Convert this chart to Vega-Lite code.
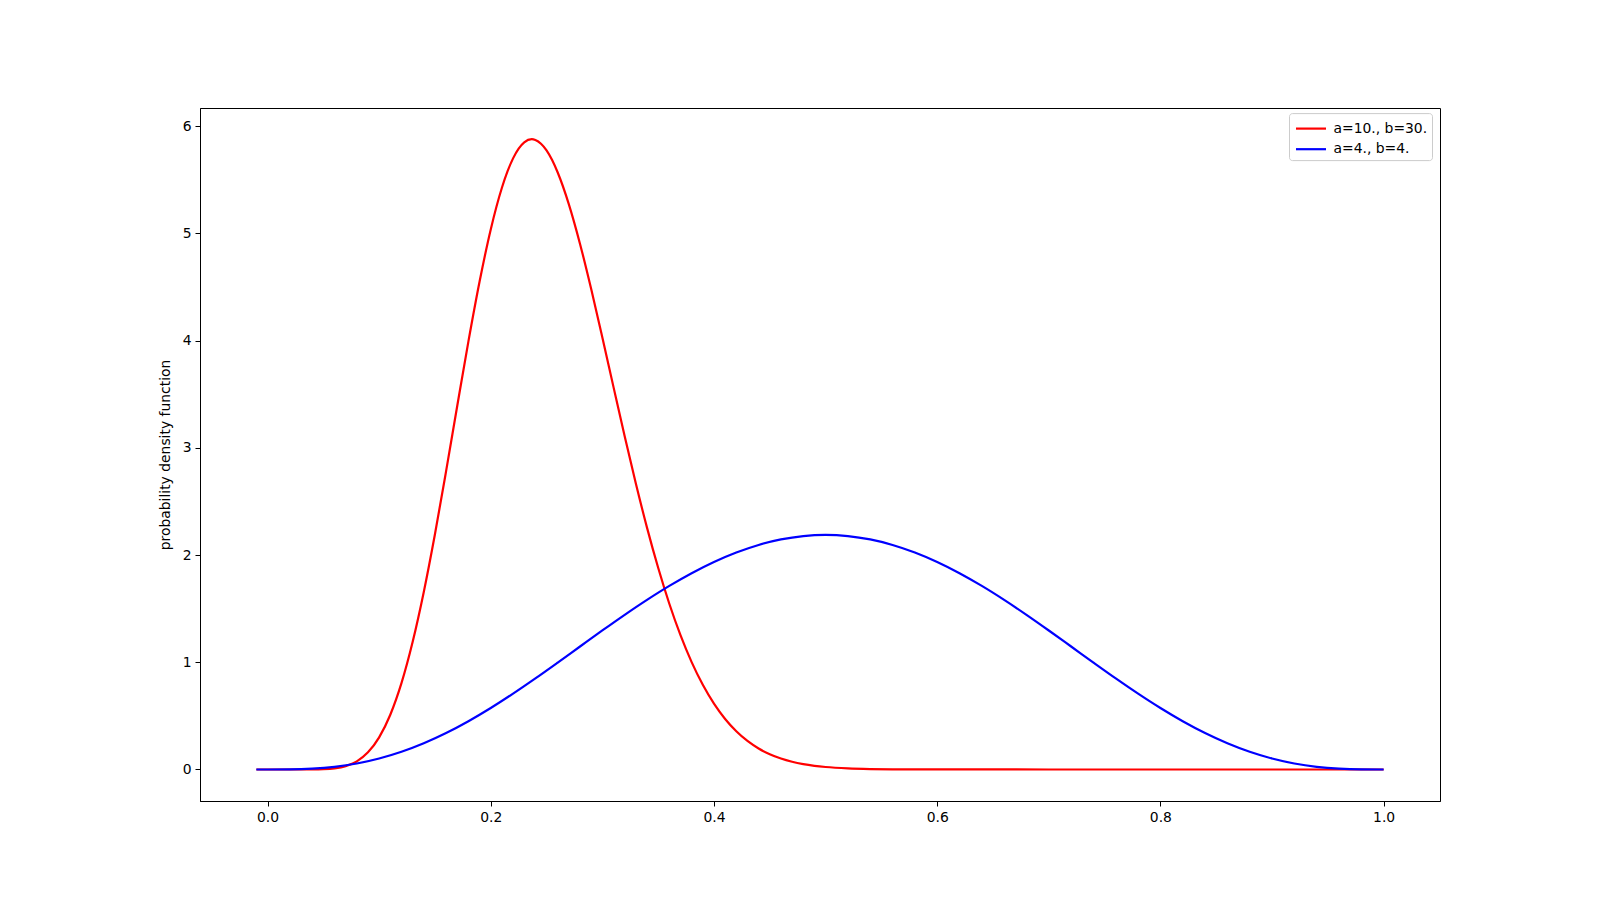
{
  "$schema": "https://vega.github.io/schema/vega-lite/v6.json",
  "width": 1240,
  "height": 693,
  "autosize": {"type": "none"},
  "padding": {"left": 200, "top": 108, "right": 160, "bottom": 99},
  "background": "white",
  "config": {
    "view": {"stroke": "black", "strokeWidth": 1},
    "font": "DejaVu Sans",
    "axis": {
      "grid": false,
      "domainColor": "black",
      "tickColor": "black",
      "tickSize": 5,
      "labelFontSize": 13.9,
      "labelColor": "black",
      "labelFont": "DejaVu Sans",
      "labelPadding": 4,
      "titleFont": "DejaVu Sans",
      "titleFontWeight": "normal",
      "titleFontSize": 13.9,
      "titleColor": "black"
    }
  },
  "data": {
    "values": [
      {"x": -0.01, "y": 0, "s": "a=10., b=30."},
      {"x": 0.0, "y": 0, "s": "a=10., b=30."},
      {"x": 0.01, "y": 0, "s": "a=10., b=30."},
      {"x": 0.02, "y": 0.000002, "s": "a=10., b=30."},
      {"x": 0.03, "y": 0.00005, "s": "a=10., b=30."},
      {"x": 0.04, "y": 0.0005, "s": "a=10., b=30."},
      {"x": 0.05, "y": 0.0028, "s": "a=10., b=30."},
      {"x": 0.06, "y": 0.0107, "s": "a=10., b=30."},
      {"x": 0.07, "y": 0.0313, "s": "a=10., b=30."},
      {"x": 0.08, "y": 0.076, "s": "a=10., b=30."},
      {"x": 0.09, "y": 0.1598, "s": "a=10., b=30."},
      {"x": 0.10, "y": 0.2995, "s": "a=10., b=30."},
      {"x": 0.11, "y": 0.5107, "s": "a=10., b=30."},
      {"x": 0.12, "y": 0.8053, "s": "a=10., b=30."},
      {"x": 0.13, "y": 1.1882, "s": "a=10., b=30."},
      {"x": 0.14, "y": 1.6555, "s": "a=10., b=30."},
      {"x": 0.15, "y": 2.1939, "s": "a=10., b=30."},
      {"x": 0.16, "y": 2.7829, "s": "a=10., b=30."},
      {"x": 0.17, "y": 3.393, "s": "a=10., b=30."},
      {"x": 0.18, "y": 3.9932, "s": "a=10., b=30."},
      {"x": 0.19, "y": 4.5514, "s": "a=10., b=30."},
      {"x": 0.20, "y": 5.0373, "s": "a=10., b=30."},
      {"x": 0.21, "y": 5.4257, "s": "a=10., b=30."},
      {"x": 0.215, "y": 5.578, "s": "a=10., b=30."},
      {"x": 0.22, "y": 5.7, "s": "a=10., b=30."},
      {"x": 0.225, "y": 5.791, "s": "a=10., b=30."},
      {"x": 0.23, "y": 5.85, "s": "a=10., b=30."},
      {"x": 0.2368, "y": 5.879, "s": "a=10., b=30."},
      {"x": 0.24, "y": 5.8709, "s": "a=10., b=30."},
      {"x": 0.245, "y": 5.837, "s": "a=10., b=30."},
      {"x": 0.25, "y": 5.7755, "s": "a=10., b=30."},
      {"x": 0.255, "y": 5.685, "s": "a=10., b=30."},
      {"x": 0.26, "y": 5.5684, "s": "a=10., b=30."},
      {"x": 0.27, "y": 5.2715, "s": "a=10., b=30."},
      {"x": 0.28, "y": 4.9023, "s": "a=10., b=30."},
      {"x": 0.29, "y": 4.4812, "s": "a=10., b=30."},
      {"x": 0.30, "y": 4.0301, "s": "a=10., b=30."},
      {"x": 0.31, "y": 3.5665, "s": "a=10., b=30."},
      {"x": 0.32, "y": 3.1077, "s": "a=10., b=30."},
      {"x": 0.33, "y": 2.6674, "s": "a=10., b=30."},
      {"x": 0.34, "y": 2.2558, "s": "a=10., b=30."},
      {"x": 0.35, "y": 1.8812, "s": "a=10., b=30."},
      {"x": 0.36, "y": 1.5459, "s": "a=10., b=30."},
      {"x": 0.37, "y": 1.2528, "s": "a=10., b=30."},
      {"x": 0.38, "y": 1.0015, "s": "a=10., b=30."},
      {"x": 0.39, "y": 0.7896, "s": "a=10., b=30."},
      {"x": 0.40, "y": 0.614, "s": "a=10., b=30."},
      {"x": 0.41, "y": 0.4711, "s": "a=10., b=30."},
      {"x": 0.42, "y": 0.3564, "s": "a=10., b=30."},
      {"x": 0.43, "y": 0.266, "s": "a=10., b=30."},
      {"x": 0.44, "y": 0.1958, "s": "a=10., b=30."},
      {"x": 0.45, "y": 0.1421, "s": "a=10., b=30."},
      {"x": 0.46, "y": 0.1017, "s": "a=10., b=30."},
      {"x": 0.47, "y": 0.0718, "s": "a=10., b=30."},
      {"x": 0.48, "y": 0.05, "s": "a=10., b=30."},
      {"x": 0.49, "y": 0.0343, "s": "a=10., b=30."},
      {"x": 0.50, "y": 0.0231, "s": "a=10., b=30."},
      {"x": 0.52, "y": 0.0101, "s": "a=10., b=30."},
      {"x": 0.54, "y": 0.0041, "s": "a=10., b=30."},
      {"x": 0.56, "y": 0.0016, "s": "a=10., b=30."},
      {"x": 0.58, "y": 0.0006, "s": "a=10., b=30."},
      {"x": 0.60, "y": 0.0002, "s": "a=10., b=30."},
      {"x": 0.70, "y": 0, "s": "a=10., b=30."},
      {"x": 0.80, "y": 0, "s": "a=10., b=30."},
      {"x": 0.90, "y": 0, "s": "a=10., b=30."},
      {"x": 1.00, "y": 0, "s": "a=10., b=30."},
      {"x": -0.01, "y": 0, "s": "a=4., b=4."},
      {"x": 0.00, "y": 0, "s": "a=4., b=4."},
      {"x": 0.02, "y": 0.00105, "s": "a=4., b=4."},
      {"x": 0.04, "y": 0.00793, "s": "a=4., b=4."},
      {"x": 0.06, "y": 0.02512, "s": "a=4., b=4."},
      {"x": 0.08, "y": 0.05582, "s": "a=4., b=4."},
      {"x": 0.10, "y": 0.10206, "s": "a=4., b=4."},
      {"x": 0.12, "y": 0.16486, "s": "a=4., b=4."},
      {"x": 0.14, "y": 0.24435, "s": "a=4., b=4."},
      {"x": 0.16, "y": 0.33988, "s": "a=4., b=4."},
      {"x": 0.18, "y": 0.45018, "s": "a=4., b=4."},
      {"x": 0.20, "y": 0.57344, "s": "a=4., b=4."},
      {"x": 0.22, "y": 0.70742, "s": "a=4., b=4."},
      {"x": 0.24, "y": 0.8496, "s": "a=4., b=4."},
      {"x": 0.26, "y": 0.99712, "s": "a=4., b=4."},
      {"x": 0.28, "y": 1.1471, "s": "a=4., b=4."},
      {"x": 0.30, "y": 1.29654, "s": "a=4., b=4."},
      {"x": 0.32, "y": 1.4425, "s": "a=4., b=4."},
      {"x": 0.34, "y": 1.582, "s": "a=4., b=4."},
      {"x": 0.36, "y": 1.7123, "s": "a=4., b=4."},
      {"x": 0.38, "y": 1.8308, "s": "a=4., b=4."},
      {"x": 0.40, "y": 1.93536, "s": "a=4., b=4."},
      {"x": 0.42, "y": 2.0238, "s": "a=4., b=4."},
      {"x": 0.44, "y": 2.0944, "s": "a=4., b=4."},
      {"x": 0.46, "y": 2.1458, "s": "a=4., b=4."},
      {"x": 0.48, "y": 2.177, "s": "a=4., b=4."},
      {"x": 0.50, "y": 2.1875, "s": "a=4., b=4."},
      {"x": 0.52, "y": 2.177, "s": "a=4., b=4."},
      {"x": 0.54, "y": 2.1458, "s": "a=4., b=4."},
      {"x": 0.56, "y": 2.0944, "s": "a=4., b=4."},
      {"x": 0.58, "y": 2.0238, "s": "a=4., b=4."},
      {"x": 0.60, "y": 1.93536, "s": "a=4., b=4."},
      {"x": 0.62, "y": 1.8308, "s": "a=4., b=4."},
      {"x": 0.64, "y": 1.7123, "s": "a=4., b=4."},
      {"x": 0.66, "y": 1.582, "s": "a=4., b=4."},
      {"x": 0.68, "y": 1.4425, "s": "a=4., b=4."},
      {"x": 0.70, "y": 1.29654, "s": "a=4., b=4."},
      {"x": 0.72, "y": 1.1471, "s": "a=4., b=4."},
      {"x": 0.74, "y": 0.99712, "s": "a=4., b=4."},
      {"x": 0.76, "y": 0.8496, "s": "a=4., b=4."},
      {"x": 0.78, "y": 0.70742, "s": "a=4., b=4."},
      {"x": 0.80, "y": 0.57344, "s": "a=4., b=4."},
      {"x": 0.82, "y": 0.45018, "s": "a=4., b=4."},
      {"x": 0.84, "y": 0.33988, "s": "a=4., b=4."},
      {"x": 0.86, "y": 0.24435, "s": "a=4., b=4."},
      {"x": 0.88, "y": 0.16486, "s": "a=4., b=4."},
      {"x": 0.90, "y": 0.10206, "s": "a=4., b=4."},
      {"x": 0.92, "y": 0.05582, "s": "a=4., b=4."},
      {"x": 0.94, "y": 0.02512, "s": "a=4., b=4."},
      {"x": 0.96, "y": 0.00793, "s": "a=4., b=4."},
      {"x": 0.98, "y": 0.00105, "s": "a=4., b=4."},
      {"x": 1.00, "y": 0, "s": "a=4., b=4."}
    ]
  },
  "mark": {"type": "line", "strokeWidth": 2.2, "interpolate": "monotone", "clip": true},
  "encoding": {
    "x": {
      "field": "x",
      "type": "quantitative",
      "scale": {"domain": [-0.0605, 1.0505], "nice": false, "zero": false},
      "axis": {"values": [0, 0.2, 0.4, 0.6, 0.8, 1.0], "format": ".1f", "title": null}
    },
    "y": {
      "field": "y",
      "type": "quantitative",
      "scale": {"domain": [-0.294, 6.17], "nice": false, "zero": false},
      "axis": {"values": [0, 1, 2, 3, 4, 5, 6], "format": "d", "title": "probability density function", "titlePadding": 10}
    },
    "color": {
      "field": "s",
      "type": "nominal",
      "scale": {"domain": ["a=10., b=30.", "a=4., b=4."], "range": ["#ff0000", "#0000ff"]},
      "legend": {
        "title": null,
        "orient": "none",
        "legendX": 1089,
        "legendY": 5.1,
        "symbolType": "M-1.5,0H1.5",
        "symbolSize": 400,
        "symbolStrokeWidth": 2.2,
        "symbolOffset": 6.5,
        "labelFontSize": 13.9,
        "labelFont": "DejaVu Sans",
        "labelColor": "black",
        "labelOffset": 11,
        "rowPadding": 1.6,
        "padding": 4,
        "fillColor": "white",
        "strokeColor": "#cccccc",
        "cornerRadius": 3
      }
    }
  }
}
